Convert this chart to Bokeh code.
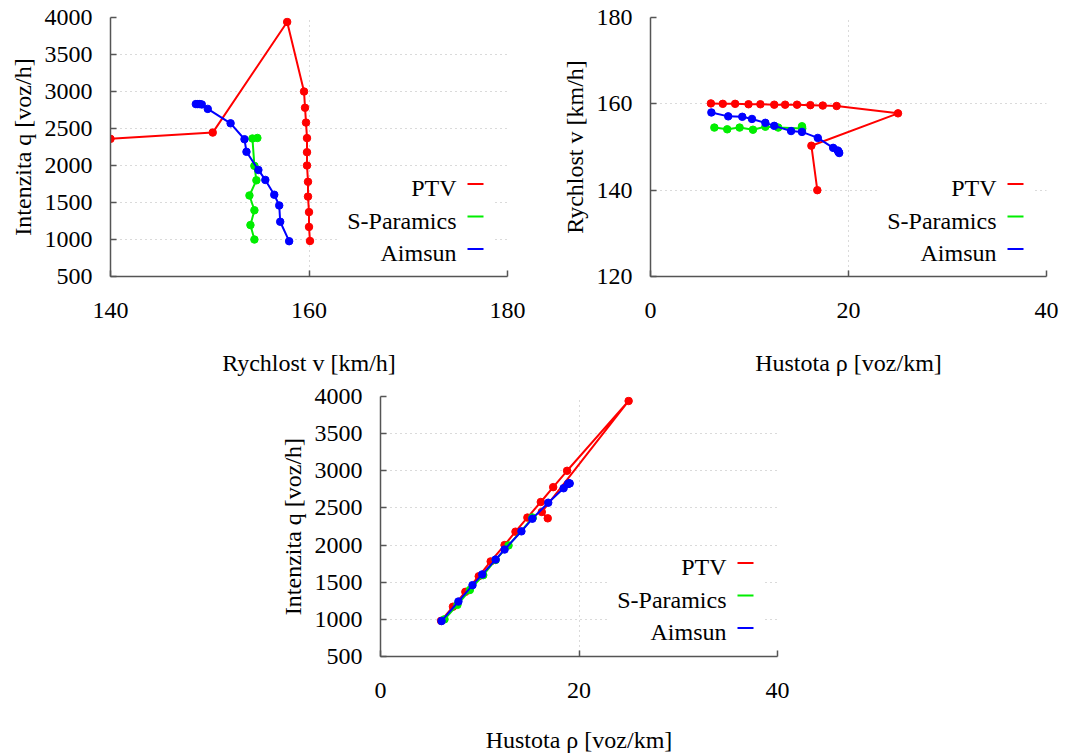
from bokeh.plotting import figure
from bokeh.models import Range1d, FixedTicker, Label, BoxAnnotation
from bokeh.layouts import column, row
from bokeh.embed import file_html
from bokeh.resources import INLINE

# ---------------- data ----------------
series = ["PTV", "S-Paramics", "Aimsun"]
colors = ["#ff0000", "#00ee00", "#0000ff"]

ptv_speed = [160.1, 160.0, 160.0, 159.9, 159.9, 159.8, 159.8, 159.8, 159.7, 159.6, 159.5, 157.8, 150.3, 140.0]
ptv_flow = [980, 1170, 1370, 1580, 1780, 2000, 2180, 2370, 2580, 2780, 3000, 3940, 2445, 2360]
ptv_density = [6.1, 7.3, 8.55, 9.9, 11.1, 12.5, 13.6, 14.8, 16.15, 17.4, 18.8, 25.0, 16.25, 16.85]

spar_speed = [154.5, 154.1, 154.5, 154.0, 154.7, 154.5, 154.3, 154.8]
spar_flow = [1000, 1195, 1395, 1595, 1800, 1995, 2365, 2372]
spar_density = [6.45, 7.75, 9.0, 10.35, 11.6, 12.9, 15.33, 15.3]

aim_speed = [158.0, 157.1, 157.0, 156.5, 155.6, 154.9, 153.7, 153.5, 152.1, 149.8, 149.2, 149.0, 148.8, 148.6]
aim_flow = [977, 1240, 1460, 1605, 1805, 1940, 2185, 2355, 2570, 2765, 2825, 2830, 2830, 2830]
aim_density = [6.15, 7.85, 9.27, 10.25, 11.6, 12.5, 14.2, 15.3, 16.9, 18.45, 18.9, 18.98, 19.02, 19.06]

speed_ticks = [120, 140, 160, 180]
speed_ticks_x = [140, 160, 180]
flow_ticks = [500, 1000, 1500, 2000, 2500, 3000, 3500, 4000]
density_ticks = [0, 20, 40]

lab_speed = "Rychlost v [km/h]"
lab_flow = "Intenzita q [voz/h]"
lab_density = "Hustota ρ [voz/km]"

# ---------------- style ----------------
FONT = "Liberation Serif"
FS = "24px"
FW, FH = 397, 259
AXC = "#555555"


def make_fig(xr, yr, xt, yt, xlabel, ylabel, borders, xlab_standoff, fw=FW, fh=FH):
    left, right, top, bottom = borders
    p = figure(frame_width=fw, frame_height=fh,
               x_range=Range1d(*xr), y_range=Range1d(*yr),
               output_backend="svg", toolbar_location=None,
               min_border_left=left, min_border_right=right,
               min_border_top=top, min_border_bottom=bottom)
    p.outline_line_color = None
    p.background_fill_color = "white"
    p.border_fill_color = "white"
    for ax, ticks, lab in ((p.xaxis[0], xt, xlabel), (p.yaxis[0], yt, ylabel)):
        ax.ticker = FixedTicker(ticks=ticks)
        ax.minor_tick_line_color = None
        ax.major_tick_in = 6
        ax.major_tick_out = 0
        ax.axis_line_color = AXC
        ax.axis_line_width = 1.5
        ax.major_tick_line_color = AXC
        ax.major_tick_line_width = 1.5
        ax.major_label_text_font = FONT
        ax.major_label_text_font_size = FS
        ax.major_label_text_color = "black"
        ax.axis_label = lab
        ax.axis_label_text_font = FONT
        ax.axis_label_text_font_size = FS
        ax.axis_label_text_font_style = "normal"
        ax.axis_label_text_color = "black"
    p.xaxis.major_label_standoff = 26
    p.yaxis.major_label_standoff = 18
    p.xaxis.axis_label_standoff = xlab_standoff
    p.yaxis.axis_label_standoff = 6
    for g in (p.xgrid, p.ygrid):
        g.grid_line_color = "#b4b4b4"
        g.grid_line_dash = "1 4"
        g.grid_line_width = 1
    return p


def add_key(p, xr, yr, fw=FW, fh=FH):
    def fx(px):
        return xr[0] + px / fw * (xr[1] - xr[0])

    def fy(py):
        return yr[1] - py / fh * (yr[1] - yr[0])

    p.add_layout(BoxAnnotation(left=fx(228), right=fx(383), top=fy(151), bottom=fy(252),
                               fill_color="white", fill_alpha=1.0, line_color=None))
    for i, (name, col) in enumerate(zip(series, colors)):
        ly = 166.5 + 32.5 * i
        p.add_layout(Label(x=fx(346), y=fy(ly + 4), text=name, text_align="right",
                           text_baseline="middle", text_font=FONT, text_font_size=FS,
                           text_color="black"))
        p.add_layout(BoxAnnotation(left=fx(357), right=fx(373), top=fy(ly - 1), bottom=fy(ly + 1),
                                   fill_color=col, fill_alpha=1.0, line_color=None))


def draw(p, xs, ys):
    for x, y, col in zip(xs, ys, colors):
        p.line(x, y, line_color=col, line_width=2)
        p.scatter(x, y, size=7.5, fill_color=col, line_color=col, marker="circle")


# top-left: flow vs speed
xr1, yr1 = (140, 180), (500, 4000)
p1 = make_fig(xr1, yr1, speed_ticks_x, flow_ticks, lab_speed, lab_flow, (110, 43, 17, 105), 29)
draw(p1, [ptv_speed, spar_speed, aim_speed], [ptv_flow, spar_flow, aim_flow])
add_key(p1, xr1, yr1)

# top-right: speed vs density
xr2, yr2 = (0, 40), (120, 180)
p2 = make_fig(xr2, yr2, density_ticks, speed_ticks, lab_density, lab_speed, (100, 13, 17, 105), 29, fw=396)
draw(p2, [ptv_density, spar_density, aim_density], [ptv_speed, spar_speed, aim_speed])
add_key(p2, xr2, yr2, fw=396)

# bottom: flow vs density
xr3, yr3 = (0, 40), (500, 4000)
p3 = make_fig(xr3, yr3, density_ticks, flow_ticks, lab_density, lab_flow, (380, 13, 15, 96), 26, fh=260)
draw(p3, [ptv_density, spar_density, aim_density], [ptv_flow, spar_flow, aim_flow])
add_key(p3, xr3, yr3, fh=260)

layout = column(row(p1, p2), p3)
open("out.html", "w").write(file_html(layout, INLINE))
